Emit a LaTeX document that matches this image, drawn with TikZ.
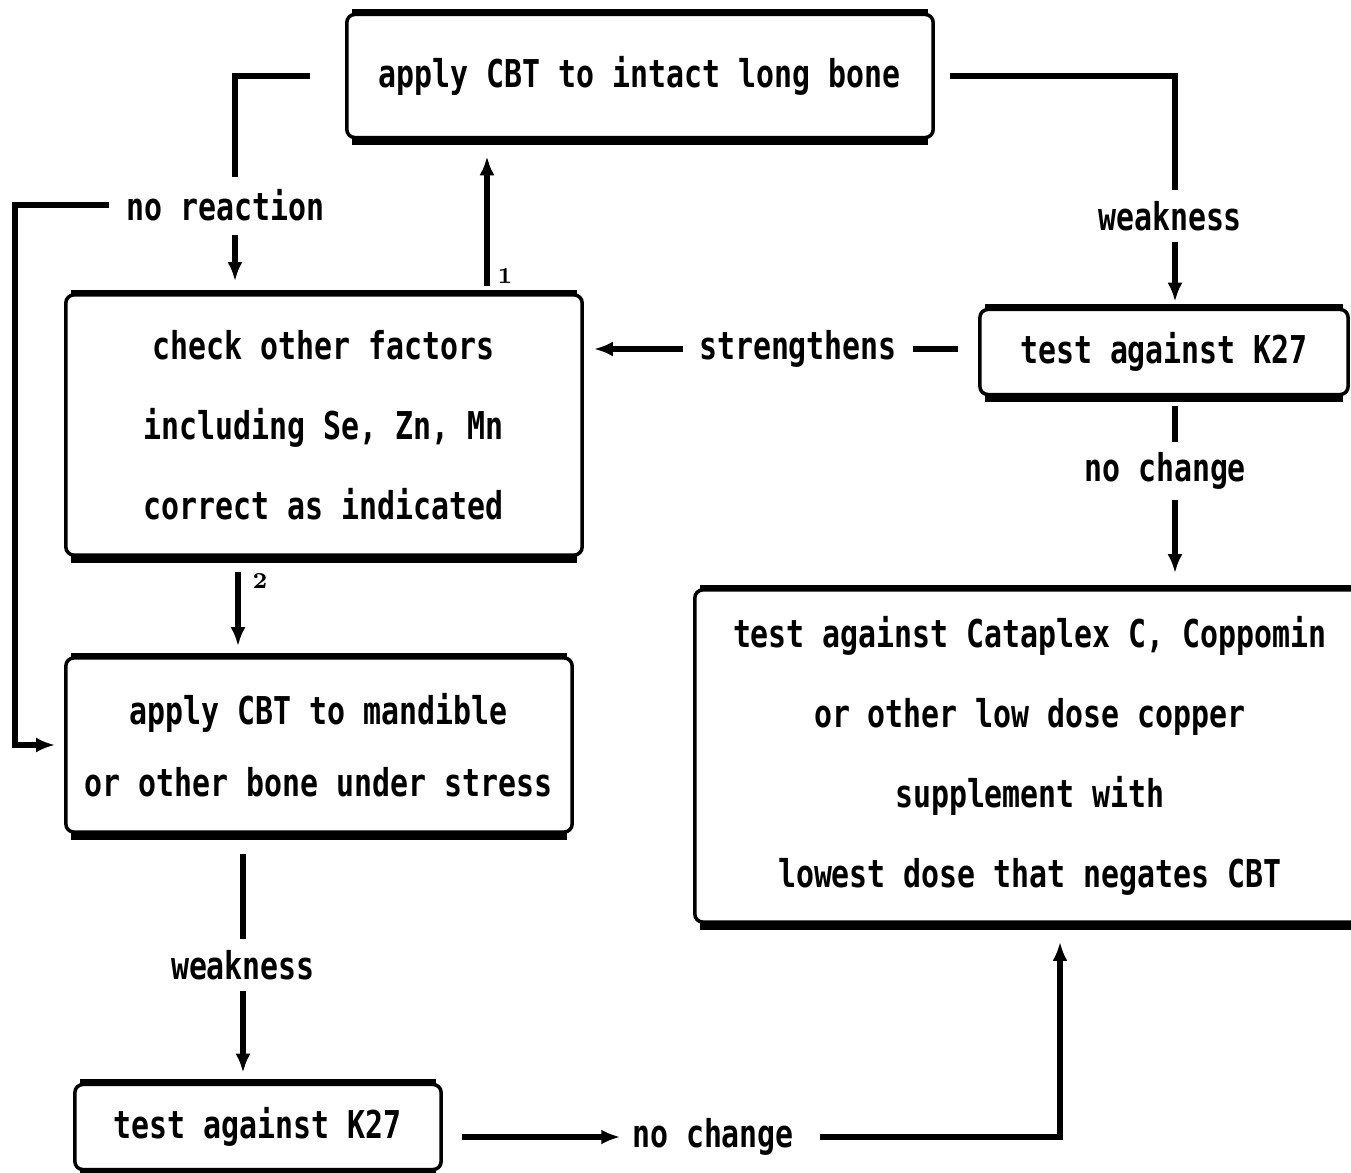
\documentclass[tikz,border=0pt]{standalone}
\usepackage{fontspec}
\usepackage{tikz}
\usetikzlibrary{arrows.meta}
\newfontfamily\pixfont[FakeStretch=0.78]{DejaVu Sans Mono}
\tikzset{
	box/.style={draw, rounded corners=0.08cm, line width=1pt, inner sep=0pt, align=center,
		font=\pixfont\bfseries\fontsize{10.9pt}{22.8pt}\selectfont},
	lbl/.style={inner sep=0.05cm, font=\pixfont\bfseries\fontsize{10.9pt}{13pt}\selectfont},
	numlbl/.style={inner sep=0pt, font=\bfseries\fontsize{6.5pt}{7pt}\selectfont},
	wire/.style={line width=1.5pt},
	boxrim/.style={line width=2.4pt},
	toprim/.style={line width=1.6pt}
}

\begin{document}
\begin{tikzpicture}[x=0.01cm, y=-0.01cm, >={Latex[length=0.19cm,width=0.15cm]}]
		\useasboundingbox (0,0) rectangle (1351,1173);
		\begin{scope}                           % clip to the page
			\clip (0,0) rectangle (1351,1173);
			% boxes
			\node[box, minimum width=5.86cm, minimum height=1.23cm] (A) at (640,76) {apply CBT to intact long bone};
			\node[box, minimum width=5.16cm, minimum height=2.60cm] (B) at (324,425) {check other factors\\including Se, Zn, Mn\\correct as indicated};
			\node[box, minimum width=3.68cm, minimum height=0.85cm] (C) at (1164,352) {test against K27};
			\node[box, minimum width=6.70cm, minimum height=3.32cm] (D) at (1030,756) {test against Cataplex C, Coppomin\\or other low dose copper\\supplement with\\lowest dose that negates CBT};
			\node[box, minimum width=5.06cm, minimum height=1.74cm, font=\pixfont\bfseries\fontsize{10.9pt}{20.5pt}\selectfont] (E) at (319,745) {apply CBT to mandible\\or other bone under stress};
			\node[box, minimum width=3.66cm, minimum height=0.85cm] (F) at (258,1127) {test against K27};
			\foreach \n in {A,B,C,D,E,F} {
				\draw[boxrim] ([xshift=0.07cm,yshift=-0.015cm]\n.south west) -- ([xshift=-0.07cm,yshift=-0.015cm]\n.south east);
				\draw[toprim] ([xshift=0.07cm,yshift=0.005cm]\n.north west) -- ([xshift=-0.07cm,yshift=0.005cm]\n.north east);
			}
			% labels
			\node[lbl] (noreact) at (226,205) {no reaction};
			\node[lbl] (weak1) at (1170,216) {weakness};
			\node[lbl] (streng) at (798,349) {strengthens};
			\node[lbl] (nochg1) at (1165,471) {no change};
			\node[lbl] (weak2) at (243,965) {weakness};
			\node[lbl] (nochg2) at (713,1137) {no change};
			\node[numlbl] (one) at (505,276) {1};
			\node[numlbl] (two) at (260,581) {2};
			\coordinate (colL) at (235,0);
			\coordinate (colM) at (238,0);
			\coordinate (colU) at (487,0);
			\coordinate (colR) at (1175,0);
			\coordinate (colB) at (1060,0);
			\coordinate (rail) at (15,0);
			% connectors
			\draw[wire, shorten <=0.35cm, shorten >=0.06cm] (A.west) -| (noreact.north -| colL);
			\draw[wire, ->, shorten <=0.08cm, shorten >=0.12cm] (noreact.south -| colL) -- (B.north -| colL);
			\draw[wire, ->, shorten <=0.12cm, shorten >=0.09cm] (noreact.west) -| (rail |- E.west) -- (E.west);
			\draw[wire, ->, shorten <=0.07cm, shorten >=0.17cm] (B.north -| colU) -- (A.south -| colU);
			\draw[wire, shorten <=0.15cm, shorten >=0.05cm] (A.east) -| (weak1.north -| colR);
			\draw[wire, ->, shorten <=0.05cm, shorten >=0.06cm] (weak1.south -| colR) -- (C.north -| colR);
			\draw[wire, ->, shorten <=0.1cm, shorten >=0.1cm] (streng.west) -- (streng.west -| B.east);
			\draw[wire, shorten <=0.1cm, shorten >=0.2cm] (streng.east) -- (streng.east -| C.west);
			\draw[wire, shorten <=0.1cm, shorten >=0.05cm] (C.south -| colR) -- (nochg1.north -| colR);
			\draw[wire, ->, shorten <=0.05cm, shorten >=0.15cm] (nochg1.south -| colR) -- (D.north -| colR);
			\draw[wire, ->, shorten <=0.15cm, shorten >=0.1cm] (B.south -| colM) -- (E.north -| colM);
			\draw[wire, shorten <=0.2cm, shorten >=0.05cm] (E.south -| weak2.north) -- (weak2.north);
			\draw[wire, ->, shorten <=0.05cm, shorten >=0.1cm] (weak2.south) -- (F.north -| weak2.south);
			\draw[wire, ->, shorten <=0.19cm, shorten >=0.06cm] (nochg2.west -| F.east) -- (nochg2.west);
			\draw[wire, ->, shorten <=0.2cm, shorten >=0.18cm] (nochg2.east) -| (D.south -| colB);
		\end{scope}
	\end{tikzpicture}
\end{document}
